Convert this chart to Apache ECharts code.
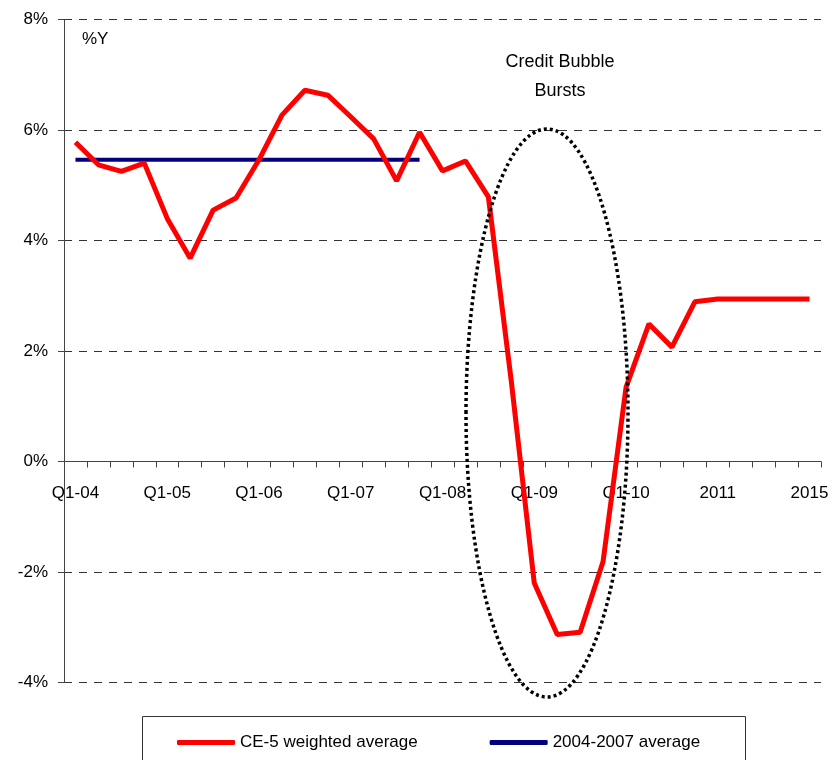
<!DOCTYPE html>
<html>
<head>
<meta charset="utf-8">
<script src="https://cdn.jsdelivr.net/npm/echarts@6/dist/echarts.min.js"></script>
<style>
  html, body { margin: 0; padding: 0; background: #fff; }
  #main { width: 838px; height: 760px; }
</style>
</head>
<body>
<div id="main"></div>
<script>
// quarters 2004-2010, then yearly 2011-2015
let categories = [
  'Q1-04','Q2-04','Q3-04','Q4-04',
  'Q1-05','Q2-05','Q3-05','Q4-05',
  'Q1-06','Q2-06','Q3-06','Q4-06',
  'Q1-07','Q2-07','Q3-07','Q4-07',
  'Q1-08','Q2-08','Q3-08','Q4-08',
  'Q1-09','Q2-09','Q3-09','Q4-09',
  'Q1-10','Q2-10','Q3-10','Q4-10',
  '2011','2012','2013','2014','2015'
];
let ce5Weighted = [
  5.78, 5.37, 5.25, 5.40,
  4.40, 3.68, 4.55, 4.77,
  5.46, 6.27, 6.72, 6.63,
  6.24, 5.84, 5.08, 5.96,
  5.26, 5.44, 4.79, 1.45,
  -2.20, -3.13, -3.09, -1.81,
  1.34, 2.49, 2.07, 2.89,
  2.94, 2.94, 2.94, 2.94, 2.94
];
let avg0407 = [
  5.46, 5.46, 5.46, 5.46,
  5.46, 5.46, 5.46, 5.46,
  5.46, 5.46, 5.46, 5.46,
  5.46, 5.46, 5.46, 5.46
];
let shownLabels = ['Q1-04','Q1-05','Q1-06','Q1-07','Q1-08','Q1-09','Q1-10','2011','2015'];

let font = 'Arial, "Liberation Sans", sans-serif';
let myChart = echarts.init(document.getElementById('main'));
let option = {
    animation: false,
    grid: { left: 64, right: 17, top: 19.5, bottom: 77.5 },
    legend: {
        left: 172,
        top: 729,
        itemWidth: 58,
        itemHeight: 5,
        itemGap: 72,
        icon: 'roundRect',
        textStyle: { fontFamily: font, fontSize: 17, color: '#000' },
        data: ['CE-5 weighted average', '2004-2007 average']
    },
    xAxis: {
        type: 'category',
        data: categories,
        boundaryGap: true,
        // the axis sits on the 0% line: shift it up from the grid bottom
        offset: -221,
        axisLine: { onZero: false, lineStyle: { color: '#444', width: 1 } },
        axisTick: { show: true, interval: 0, length: 6, lineStyle: { color: '#444' } },
        axisLabel: {
            interval: 0,
            margin: 23,
            fontFamily: font,
            fontSize: 17,
            color: '#000',
            formatter: function (v) { return shownLabels.indexOf(v) >= 0 ? v : ''; }
        },
        splitLine: { show: false }
    },
    yAxis: {
        type: 'value',
        min: -4,
        max: 8,
        interval: 2,
        axisLine: { show: true, lineStyle: { color: '#444', width: 1 } },
        axisTick: { show: true, length: 6, lineStyle: { color: '#444' } },
        axisLabel: {
            margin: 16,
            fontFamily: font,
            fontSize: 17,
            color: '#000',
            formatter: '{value}%'
        },
        splitLine: { show: true, lineStyle: { color: '#333', type: [8, 7], width: 1 } }
    },
    series: [
        {
            name: 'CE-5 weighted average',
            type: 'line',
            data: ce5Weighted,
            symbol: 'none',
            color: '#ff0000',
            lineStyle: { color: '#ff0000', width: 5 },
            z: 3
        },
        {
            name: '2004-2007 average',
            type: 'line',
            data: avg0407,
            symbol: 'none',
            color: '#000080',
            lineStyle: { color: '#000080', width: 4 },
            z: 2
        }
    ],
    graphic: [
        {
            type: 'text', left: 82, top: 31, z: 10,
            style: { text: '%Y', font: '17px ' + font, fill: '#000' }
        },
        {
            type: 'text', x: 560, y: 48, z: 10,
            style: { text: 'Credit Bubble\nBursts', font: '18px ' + font, fill: '#000', align: 'center', lineHeight: 29 }
        },
        {
            type: 'ellipse', z: 10,
            shape: { cx: 547, cy: 413, rx: 81, ry: 284 },
            style: { fill: 'none', stroke: '#000', lineWidth: 3.5, lineDash: [3, 3] }
        },
        {
            type: 'rect', z: 0,
            shape: { x: 142.5, y: 716.5, width: 603, height: 60 },
            style: { fill: 'none', stroke: '#333', lineWidth: 1 }
        }
    ]
};
myChart.setOption(option);
</script>
</body>
</html>
